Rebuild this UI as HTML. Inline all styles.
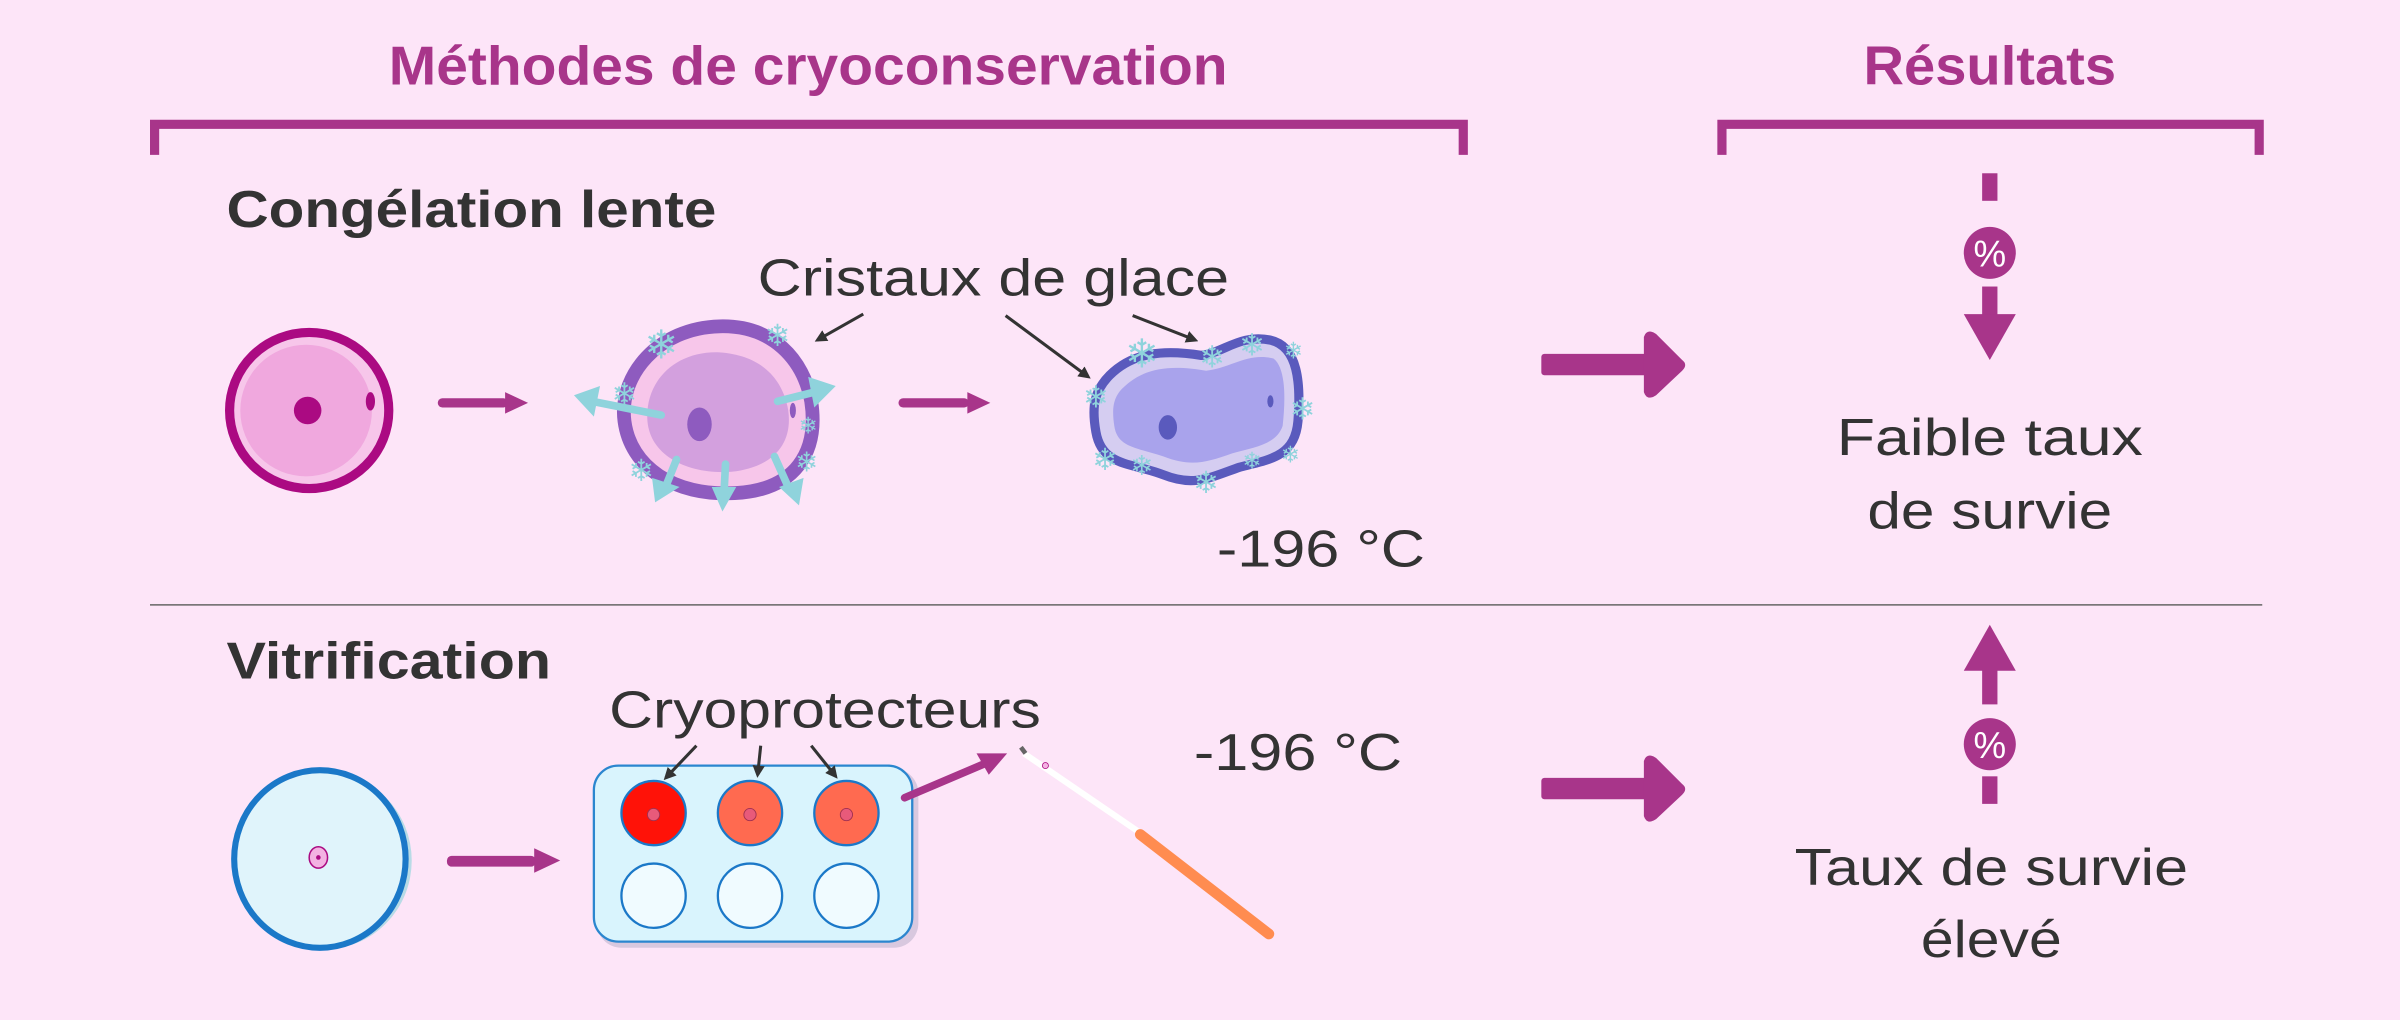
<!DOCTYPE html>
<html><head><meta charset="utf-8"><style>
html,body{margin:0;padding:0;background:#fde5f8;}
svg{display:block;}
text{font-family:"Liberation Sans",sans-serif;}
</style></head><body>
<svg width="2400" height="1020" viewBox="0 0 1568 666" xmlns="http://www.w3.org/2000/svg">
<rect width="1568" height="666" fill="#fde5f8"/>
<defs>
<marker id="ah" markerWidth="8" markerHeight="8" refX="6" refY="4" orient="auto" markerUnits="userSpaceOnUse"><path d="M0,0 L8,4 L0,8 Z" fill="#333"/></marker>
</defs>
<text x="528" y="55" text-anchor="middle" font-size="36" font-weight="bold" fill="#a8358a" textLength="548" lengthAdjust="spacingAndGlyphs">Méthodes de cryoconservation</text>
<path d="M101,101 V81 H956 V101" fill="none" stroke="#a8358a" stroke-width="6"/>
<text x="1300" y="55" text-anchor="middle" font-size="36" font-weight="bold" fill="#a8358a" textLength="165" lengthAdjust="spacingAndGlyphs">Résultats</text>
<path d="M1125,101 V81 H1476 V101" fill="none" stroke="#a8358a" stroke-width="6"/>

<text x="148" y="148" font-size="34" font-weight="bold" fill="#333" textLength="320" lengthAdjust="spacingAndGlyphs">Congélation lente</text>
<text x="148" y="443" font-size="34" font-weight="bold" fill="#333" textLength="212" lengthAdjust="spacingAndGlyphs">Vitrification</text>

<line x1="98" y1="395" x2="1478" y2="395" stroke="#666" stroke-width="1"/>

<ellipse cx="202" cy="268" rx="52" ry="51" fill="#f7c6ea" stroke="#ab0a82" stroke-width="6"/>
<ellipse cx="200" cy="268" rx="43" ry="43" fill="#f0a8de"/>
<circle cx="201" cy="268" r="9" fill="#ab0a82"/>
<ellipse cx="242" cy="262" rx="3" ry="6" fill="#ab0a82"/>
<g fill="#a8358a">
<rect x="286" y="260" width="46" height="6" rx="3"/><path d="M330,256 L345,263 L330,270 Z"/>
<rect x="587" y="260" width="46" height="6" rx="3"/><path d="M632,256 L647,263 L632,270 Z"/>
<rect x="292" y="559" width="58" height="7" rx="3"/><path d="M349,554 L366,562 L349,570 Z"/>
</g>
<path d="M470,213 C505,212 525,235 530,262 C535,295 520,320 480,322 C440,324 412,305 408,275 C404,245 430,214 470,213 Z" fill="#f7c6ea" stroke="#8e5bbf" stroke-width="9"/>
<path d="M470,230 C500,232 512,250 515,268 C518,290 505,305 478,308 C450,310 425,298 423,275 C421,250 440,229 470,230 Z" fill="#d3a0de"/>
<ellipse cx="457" cy="277" rx="8" ry="11" fill="#8e5bbf"/>
<ellipse cx="518" cy="268" rx="2" ry="5" fill="#8e5bbf"/>
<g stroke="#8fd3dc" stroke-width="5" fill="#8fd3dc" stroke-linecap="round">
<line x1="432" y1="271" x2="387" y2="262"/><path d="M375,258 L392,252 L388,272 Z" stroke="none"/>
<line x1="508" y1="262" x2="532" y2="256"/><path d="M546,252 L528,246 L532,266 Z" stroke="none"/>
<line x1="442" y1="300" x2="434" y2="320"/><path d="M428,328 L426,312 L444,318 Z" stroke="none"/>
<line x1="474" y1="303" x2="473" y2="322"/><path d="M472,334 L465,318 L481,318 Z" stroke="none"/>
<line x1="506" y1="298" x2="515" y2="318"/><path d="M522,330 L509,318 L525,312 Z" stroke="none"/>
</g>
<path d="M725,245 C740,230 760,228 785,232 C800,230 810,218 830,222 C848,226 850,250 848,275 C846,298 830,300 810,305 C790,312 780,318 760,310 C740,302 720,305 716,282 C713,265 715,255 725,245 Z" fill="#d5cdf1" stroke="#5a5abd" stroke-width="6"/>
<path d="M735,252 C748,240 765,238 788,242 C805,240 815,230 832,234 C840,240 840,260 838,278 C834,290 820,292 805,296 C788,302 778,305 760,298 C742,292 730,292 728,278 C726,265 728,258 735,252 Z" fill="#a9a3ec"/>
<ellipse cx="763" cy="279" rx="6" ry="8" fill="#5a5abd"/>
<ellipse cx="830" cy="262" rx="2" ry="4" fill="#5a5abd"/>
<g fill="#8fd3dc" font-family="'DejaVu Sans',sans-serif" text-anchor="middle">
<text x="432" y="234" font-size="26">❄</text><text x="508" y="226" font-size="20">❄</text>
<text x="408" y="264" font-size="20">❄</text><text x="528" y="283" font-size="15">❄</text>
<text x="527" y="308" font-size="18">❄</text><text x="419" y="314" font-size="20">❄</text>
<text x="746" y="240" font-size="26">❄</text><text x="792" y="240" font-size="20">❄</text>
<text x="818" y="232" font-size="20">❄</text><text x="845" y="234" font-size="15">❄</text>
<text x="716" y="266" font-size="20">❄</text><text x="851" y="274" font-size="20">❄</text>
<text x="722" y="307" font-size="20">❄</text><text x="746" y="310" font-size="18">❄</text>
<text x="788" y="322" font-size="20">❄</text><text x="818" y="306" font-size="15">❄</text>
<text x="843" y="302" font-size="15">❄</text>
</g>
<text x="495" y="193" font-size="34" fill="#333" textLength="308" lengthAdjust="spacingAndGlyphs">Cristaux de glace</text>
<text x="795" y="370" font-size="34" fill="#333" textLength="136" lengthAdjust="spacingAndGlyphs">-196 °C</text>
<text x="780" y="503" font-size="34" fill="#333" textLength="136" lengthAdjust="spacingAndGlyphs">-196 °C</text>
<text x="398" y="475" font-size="34" fill="#333" textLength="282" lengthAdjust="spacingAndGlyphs">Cryoprotecteurs</text>

<g fill="#a8358a">
<rect x="1007" y="231" width="70" height="14" rx="2"/><path d="M1074,220 Q1076,214 1082,218 L1099,235 Q1103,238 1099,242 L1082,258 Q1076,262 1074,256 Z"/>
<rect x="1007" y="508" width="70" height="14" rx="2"/><path d="M1074,497 Q1076,491 1082,495 L1099,512 Q1103,515 1099,519 L1082,535 Q1076,539 1074,533 Z"/>
<rect x="1295" y="113" width="10" height="18"/><circle cx="1300" cy="165" r="17"/>
<rect x="1295" y="187" width="10" height="20"/><path d="M1283,205 L1317,205 L1300,235 Z"/>
<path d="M1283,438 L1317,438 L1300,408 Z"/><rect x="1295" y="436" width="10" height="24"/>
<circle cx="1300" cy="486" r="17"/><rect x="1295" y="507" width="10" height="18"/>
</g>
<g fill="#fff" font-size="24" text-anchor="middle"><text x="1300" y="174">%</text><text x="1300" y="495">%</text></g>
<g fill="#333" font-size="34" text-anchor="middle">
<text x="1300" y="297" textLength="200" lengthAdjust="spacingAndGlyphs">Faible taux</text>
<text x="1300" y="345" textLength="160" lengthAdjust="spacingAndGlyphs">de survie</text>
<text x="1301" y="578" textLength="257" lengthAdjust="spacingAndGlyphs">Taux de survie</text>
<text x="1301" y="625" textLength="92" lengthAdjust="spacingAndGlyphs">élevé</text>
</g>

<ellipse cx="212" cy="562" rx="57" ry="58" fill="#b8dbe6"/>
<ellipse cx="209" cy="561" rx="56" ry="58" fill="#e0f4fb" stroke="#1b78c8" stroke-width="4"/>
<ellipse cx="208" cy="560" rx="6" ry="7" fill="#f3b2e2" stroke="#ab0a82" stroke-width="1"/>
<circle cx="208" cy="560" r="1.5" fill="#ab0a82"/>
<rect x="390" y="502" width="210" height="117" rx="16" fill="#d8c8df"/>
<rect x="388" y="500" width="208" height="115" rx="16" fill="#d9f4fd" stroke="#2b86cf" stroke-width="1.5"/>
<g stroke="#1b78c8" stroke-width="1.5">
<ellipse cx="427" cy="531" rx="21" ry="21" fill="#ff1208"/>
<ellipse cx="490" cy="531" rx="21" ry="21" fill="#ff6a50"/>
<ellipse cx="553" cy="531" rx="21" ry="21" fill="#ff6a50"/>
<ellipse cx="427" cy="585" rx="21" ry="21" fill="#f0fbff"/>
<ellipse cx="490" cy="585" rx="21" ry="21" fill="#f0fbff"/>
<ellipse cx="553" cy="585" rx="21" ry="21" fill="#f0fbff"/>
</g>
<g fill="#e85a7a" stroke="#a03050" stroke-width="0.6">
<circle cx="427" cy="532" r="4"/><circle cx="490" cy="532" r="4"/><circle cx="553" cy="532" r="4"/>
</g>
<g stroke="#333" stroke-width="2" marker-end="url(#ah)">
<line x1="564" y1="205" x2="534" y2="222"/>
<line x1="657" y1="206" x2="711" y2="246"/>
<line x1="740" y1="206" x2="781" y2="222"/>
<line x1="455" y1="487" x2="435" y2="508"/>
<line x1="497" y1="487" x2="495" y2="506"/>
<line x1="530" y1="487" x2="546" y2="507"/>
</g>
<line x1="591" y1="521" x2="645" y2="498" stroke="#a8358a" stroke-width="5" stroke-linecap="round"/>
<path d="M658,492 L638,492 L646,506 Z" fill="#a8358a"/>
<line x1="669" y1="492" x2="745" y2="544" stroke="#fff" stroke-width="4"/>
<line x1="667" y1="488" x2="670" y2="492" stroke="#666" stroke-width="3"/>
<circle cx="683" cy="500" r="2" fill="#f3b2e2" stroke="#ab0a82" stroke-width="0.5"/>
<line x1="745" y1="545" x2="829" y2="610" stroke="#ff8c50" stroke-width="7" stroke-linecap="round"/>
</svg>
</body></html>
